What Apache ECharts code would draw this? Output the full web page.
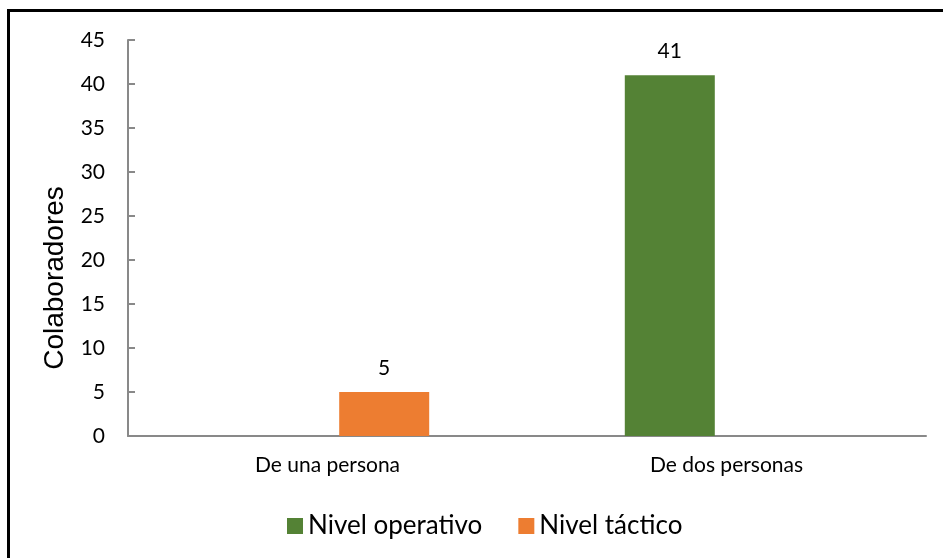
<!DOCTYPE html>
<html>
<head>
<meta charset="utf-8">
<script src="https://cdn.jsdelivr.net/npm/echarts@6/dist/echarts.min.js"></script>
<style>html,body{margin:0;padding:0;background:#fff}#c{width:943px;height:558px}</style>
</head>
<body>
<div id="c"></div>
<script>
const categories = ['De una persona', 'De dos personas'];
const seriesNames = ['Nivel operativo', 'Nivel táctico'];
const operativo = [null, 41];
const tactico = [5, null];
const yTicks = [0, 5, 10, 15, 20, 25, 30, 35, 40, 45];

const FONT = 'Lato';
const chart = echarts.init(document.getElementById('c'), null, {renderer: 'canvas'});
chart.setOption({
  animation: false,
  backgroundColor: '#fff',
  graphic: [{
    type: 'rect', shape: {x: 8.5, y: 10.5, width: 1000, height: 1000},
    style: {fill: 'none', stroke: '#000', lineWidth: 3}, z: 100
  }],
  grid: {left: 128, right: 17, top: 40, bottom: 122, containLabel: false},
  legend: {
    data: seriesNames, top: 508, left: 282,
    itemWidth: 16, itemHeight: 16, itemGap: 36, icon: 'rect',
    textStyle: {fontFamily: FONT, fontSize: 26, color: '#000'}
  },
  xAxis: {
    type: 'category', data: categories,
    axisLine: {lineStyle: {color: '#898989', width: 2}},
    axisTick: {show: false},
    axisLabel: {fontFamily: FONT, fontSize: 21, color: '#000', margin: 19}
  },
  yAxis: {
    type: 'value', min: yTicks[0], max: yTicks[yTicks.length - 1], interval: 5,
    name: 'Colaboradores', nameLocation: 'middle', nameGap: 54,
    nameTextStyle: {fontFamily: 'Liberation Sans', fontSize: 28, color: '#000', padding: [0, 80, 0, 0]},
    axisLine: {show: true, lineStyle: {color: '#898989', width: 2}},
    axisTick: {show: true, inside: true, length: 7, lineStyle: {color: '#898989', width: 2}},
    splitLine: {show: false},
    axisLabel: {fontFamily: FONT, fontSize: 21, color: '#000', margin: 23}
  },
  series: [
    {name: seriesNames[0], type: 'bar', data: operativo, barWidth: 90, barGap: '26%',
     itemStyle: {color: '#548235'},
     label: {show: true, position: 'top', distance: 13, fontFamily: FONT, fontSize: 21, color: '#000'}},
    {name: seriesNames[1], type: 'bar', data: tactico, barWidth: 90, barGap: '26%',
     itemStyle: {color: '#ED7D31'},
     label: {show: true, position: 'top', distance: 13, fontFamily: FONT, fontSize: 21, color: '#000'}}
  ]
});
</script>
</body>
</html>
